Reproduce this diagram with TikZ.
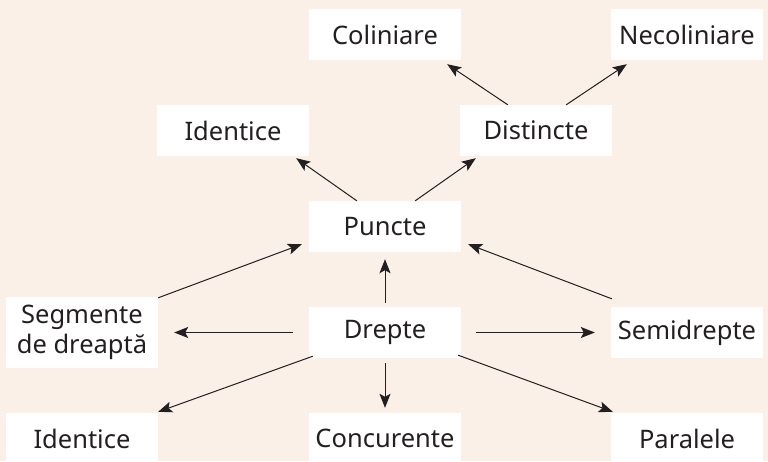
\documentclass[tikz,border=0pt]{standalone}
\usepackage{fontspec}
\setmainfont{Noto Sans}
\usetikzlibrary{arrows.meta,calc}
\definecolor{bgc}{HTML}{FBF0E8}
\definecolor{txt}{HTML}{231F20}
\begin{document}
\begin{tikzpicture}[x=1pt,y=-1pt,
  box/.style={fill=white,draw=none,minimum width=152pt,minimum height=51pt,inner sep=0pt,
    font=\fontsize{25.5pt}{30.5pt}\selectfont,text=txt,align=center},
  arr/.style={-{Stealth[length=14pt,width=11pt,inset=3pt]},line width=1pt,draw=txt}]
\fill[bgc] (0,0) rectangle (768,461);
\useasboundingbox (0,0) rectangle (768,461);
\node[box] (col) at (385,34.5) {Coliniare};
\node[box] (neco) at (687,34.5) {Necoliniare};
\node[box] (idt) at (233,130.5) {Identice};
\node[box] (dist) at (536,130.5) {Distincte};
\node[box] (punc) at (385,226.5) {Puncte};
\node[box,minimum height=71pt] (seg) at (82,332.5) {Segmente\\de dreaptă};
\node[box] (drep) at (385,332.5) {Drepte};
\node[box] (semi) at (687,332.5) {Semidrepte};
\node[box] (idb) at (82,438.5) {Identice};
\node[box] (conc) at (385,438.5) {Concurente};
\node[box] (par) at (687,438.5) {Paralele};
\draw[arr] ($(dist.north west)+(48,0)$) -- ($(col.south east)+(-14,4)$);
\draw[arr] ($(dist.north east)+(-46,0)$) -- ($(neco.south west)+(16,4)$);
\draw[arr] ($(punc.north west)+(48,0)$) -- ($(idt.south east)+(-13,2)$);
\draw[arr] ($(punc.north east)+(-46,0)$) -- ($(dist.south west)+(16,2)$);
\draw[arr] ($(seg.north east)+(0,1)$) -- ($(punc.south west)+(-7,-8)$);
\draw[arr] ($(semi.north west)+(1,-8)$) -- ($(punc.south east)+(7,-8)$);
\draw[arr] ($(drep.north)+(0,-4)$) -- ($(punc.south)+(0,7)$);
\draw[arr] ($(drep.west)+(-16,0)$) -- ($(seg.east)+(16,0)$);
\draw[arr] ($(drep.east)+(15,0)$) -- ($(semi.west)+(-16,0)$);
\draw[arr] ($(drep.south west)+(4,-2)$) -- ($(idb.north east)+(0,-1)$);
\draw[arr] ($(drep.south)+(0,5)$) -- ($(conc.north)+(0,-5)$);
\draw[arr] ($(drep.south east)+(-3,-3)$) -- ($(par.north west)+(2,-1)$);
\end{tikzpicture}
\end{document}
